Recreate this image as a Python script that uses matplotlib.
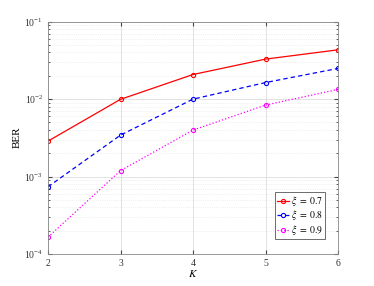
import matplotlib
matplotlib.use("Agg")
import matplotlib.pyplot as plt
from matplotlib.ticker import LogLocator, NullFormatter

K = [2, 3, 4, 5, 6]
ber_07 = [2.86e-3, 9.9e-3, 2.07e-2, 3.27e-2, 4.31e-2]
ber_08 = [7.36e-4, 3.42e-3, 9.96e-3, 1.63e-2, 2.48e-2]
ber_09 = [1.65e-4, 1.19e-3, 3.97e-3, 8.34e-3, 1.33e-2]
labels = [r'$\xi\ =\ 0.7$', r'$\xi\ =\ 0.8$', r'$\xi\ =\ 0.9$']

plt.rcParams['font.family'] = ['Liberation Serif', 'DejaVu Serif']
plt.rcParams['mathtext.fontset'] = 'stix'
plt.rcParams['font.size'] = 7

fig = plt.figure(figsize=(3.74, 2.86), dpi=100)
ax = fig.add_axes([48 / 374, 1 - 254 / 286, 290 / 374, 232.5 / 286])

ax.semilogy(K, ber_07, '-', color='red', marker='o', ms=3, mfc='none', mew=0.8, lw=0.9, label=labels[0])
ax.semilogy(K, ber_08, color='blue', ls=(0, (3.5, 2.5)), marker='o', ms=3, mfc='none', mew=0.8, lw=0.9, label=labels[1])
ax.semilogy(K, ber_09, ':', color='magenta', marker='o', ms=3, mfc='none', mew=0.8, lw=0.9, label=labels[2])

ax.set_xlim(2, 6)
ax.set_ylim(1e-4, 1e-1)
ax.set_xticks(K)
ax.yaxis.set_major_locator(LogLocator(base=10, numticks=10))
ax.yaxis.set_minor_locator(LogLocator(base=10, subs=range(2, 10), numticks=10))
ax.yaxis.set_minor_formatter(NullFormatter())

ax.grid(True, which='major', color='#dddddd', lw=0.6)
ax.grid(True, which='minor', axis='y', color='#e4e4e4', lw=0.5, ls=':')
ax.tick_params(which='both', direction='in', top=True, right=True, colors='#444444', labelcolor='#333333')
ax.tick_params(which='major', length=3)
ax.tick_params(which='minor', length=1.5)
for s in ax.spines.values():
    s.set_color('#888888')
    s.set_linewidth(0.6)

ax.set_xlabel(r'$K$', fontsize=8, labelpad=0)
ax.set_ylabel('BER', fontsize=8, labelpad=2)

leg = ax.legend(loc='lower right', bbox_to_anchor=(0.955, 0.065), fontsize=7,
                handlelength=1.2, handletextpad=0.2, borderpad=0.2, borderaxespad=0,
                labelspacing=0.05, fancybox=False, edgecolor='#555555', framealpha=1)
leg.get_frame().set_linewidth(0.6)

fig.savefig('out.png', dpi=100)
